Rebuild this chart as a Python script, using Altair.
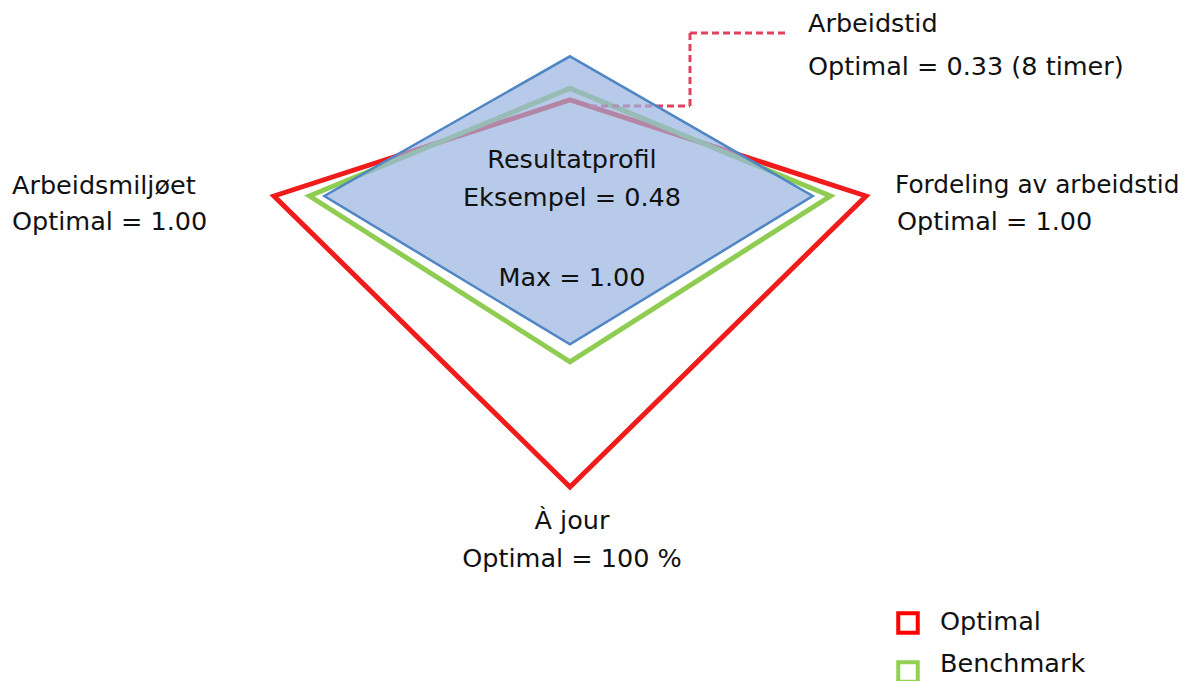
import altair as alt
import pandas as pd
import math

# ---- data ----
axes_names = ["Arbeidstid", "Fordeling av arbeidstid", "À jour", "Arbeidsmiljøet"]
axes_angles_deg = [90, 0, 270, 180]
optimal = [0.33, 1.00, 1.00, 1.00]
benchmark = [0.37, 0.88, 0.57, 0.88]
eksempel = [0.48, 0.82, 0.51, 0.83]

series_names = ["Optimal", "Benchmark", "Eksempel"]
series_values = [optimal, benchmark, eksempel]

rows = []
for name, vals in zip(series_names, series_values):
    for i, (ax, ang, v) in enumerate(zip(axes_names, axes_angles_deg, vals)):
        a = math.radians(ang)
        rows.append({"series": name, "axis": ax, "order": i, "value": v,
                     "x": v * math.cos(a), "y": v * math.sin(a)})
df = pd.DataFrame(rows)

W, H = 1179, 673
FONT = "DejaVu Sans"
FS = 25.5

xs = alt.Scale(domain=[-1.8986, 2.0845], nice=False, zero=False)
ys = alt.Scale(domain=[-1.6667, 0.6460], nice=False, zero=False)


def poly(name, **mk):
    return alt.Chart(df[df.series == name]).mark_line(
        interpolate="linear-closed", **mk
    ).encode(
        x=alt.X("x:Q", scale=xs, axis=None),
        y=alt.Y("y:Q", scale=ys, axis=None),
        order="order:O",
    )


red = poly("Optimal", stroke="#f01c1c", strokeWidth=5)
green = poly("Benchmark", stroke="#8fcc52", strokeWidth=5)
blue = poly("Eksempel", stroke="#4f86c6", strokeWidth=2.5,
            fill="#9ab3e0", fillOpacity=0.7)

dash = dict(color="#e2415e", strokeWidth=3, strokeDash=[7, 4])
base = alt.Chart(pd.DataFrame({"k": [0]}))
c1 = base.mark_rule(**dash).encode(x=alt.value(582), x2=alt.value(682), y=alt.value(98))
c2 = base.mark_rule(**dash).encode(x=alt.value(682), y=alt.value(98), y2=alt.value(25))
c3 = base.mark_rule(**dash).encode(x=alt.value(682), x2=alt.value(779), y=alt.value(25))


def txt(s, x, y, align="left", fs=FS):
    return base.mark_text(text=s, font=FONT, fontSize=fs, align=align,
                          baseline="middle", color="#111111").encode(
        x=alt.value(x), y=alt.value(y))


texts = [
    txt("Arbeidstid", 800, 16),
    txt("Optimal = 0.33 (8 timer)", 800, 59),
    txt("Arbeidsmiljøet", 4, 178),
    txt("Optimal = 1.00", 4, 214),
    txt("Fordeling av arbeidstid", 887, 178, fs=24.8),
    txt("Optimal = 1.00", 889, 214),
    txt("À jour", 564, 513, "center"),
    txt("Optimal = 100 %", 564, 551, "center"),
    txt("Resultatprofil", 564, 152, "center"),
    txt("Eksempel = 0.48", 564, 190, "center"),
    txt("Max = 1.00", 564, 270, "center"),
    txt("Optimal", 932, 614),
    txt("Benchmark", 932, 656),
]

leg_red = base.mark_point(shape="square", size=380, filled=False, stroke="#ff0000",
                          strokeWidth=4, opacity=1).encode(x=alt.value(900), y=alt.value(615))
leg_green = base.mark_point(shape="square", size=380, filled=False, stroke="#92d050",
                            strokeWidth=4, opacity=1).encode(x=alt.value(900), y=alt.value(664))

chart = alt.layer(red, green, c1, c2, c3, blue, *texts, leg_red, leg_green).properties(
    width=W, height=H, autosize=alt.AutoSizeParams(type="none"), padding=0
).configure_view(stroke=None)

chart.save("out.html", embed_options={"renderer": "svg", "actions": False})
